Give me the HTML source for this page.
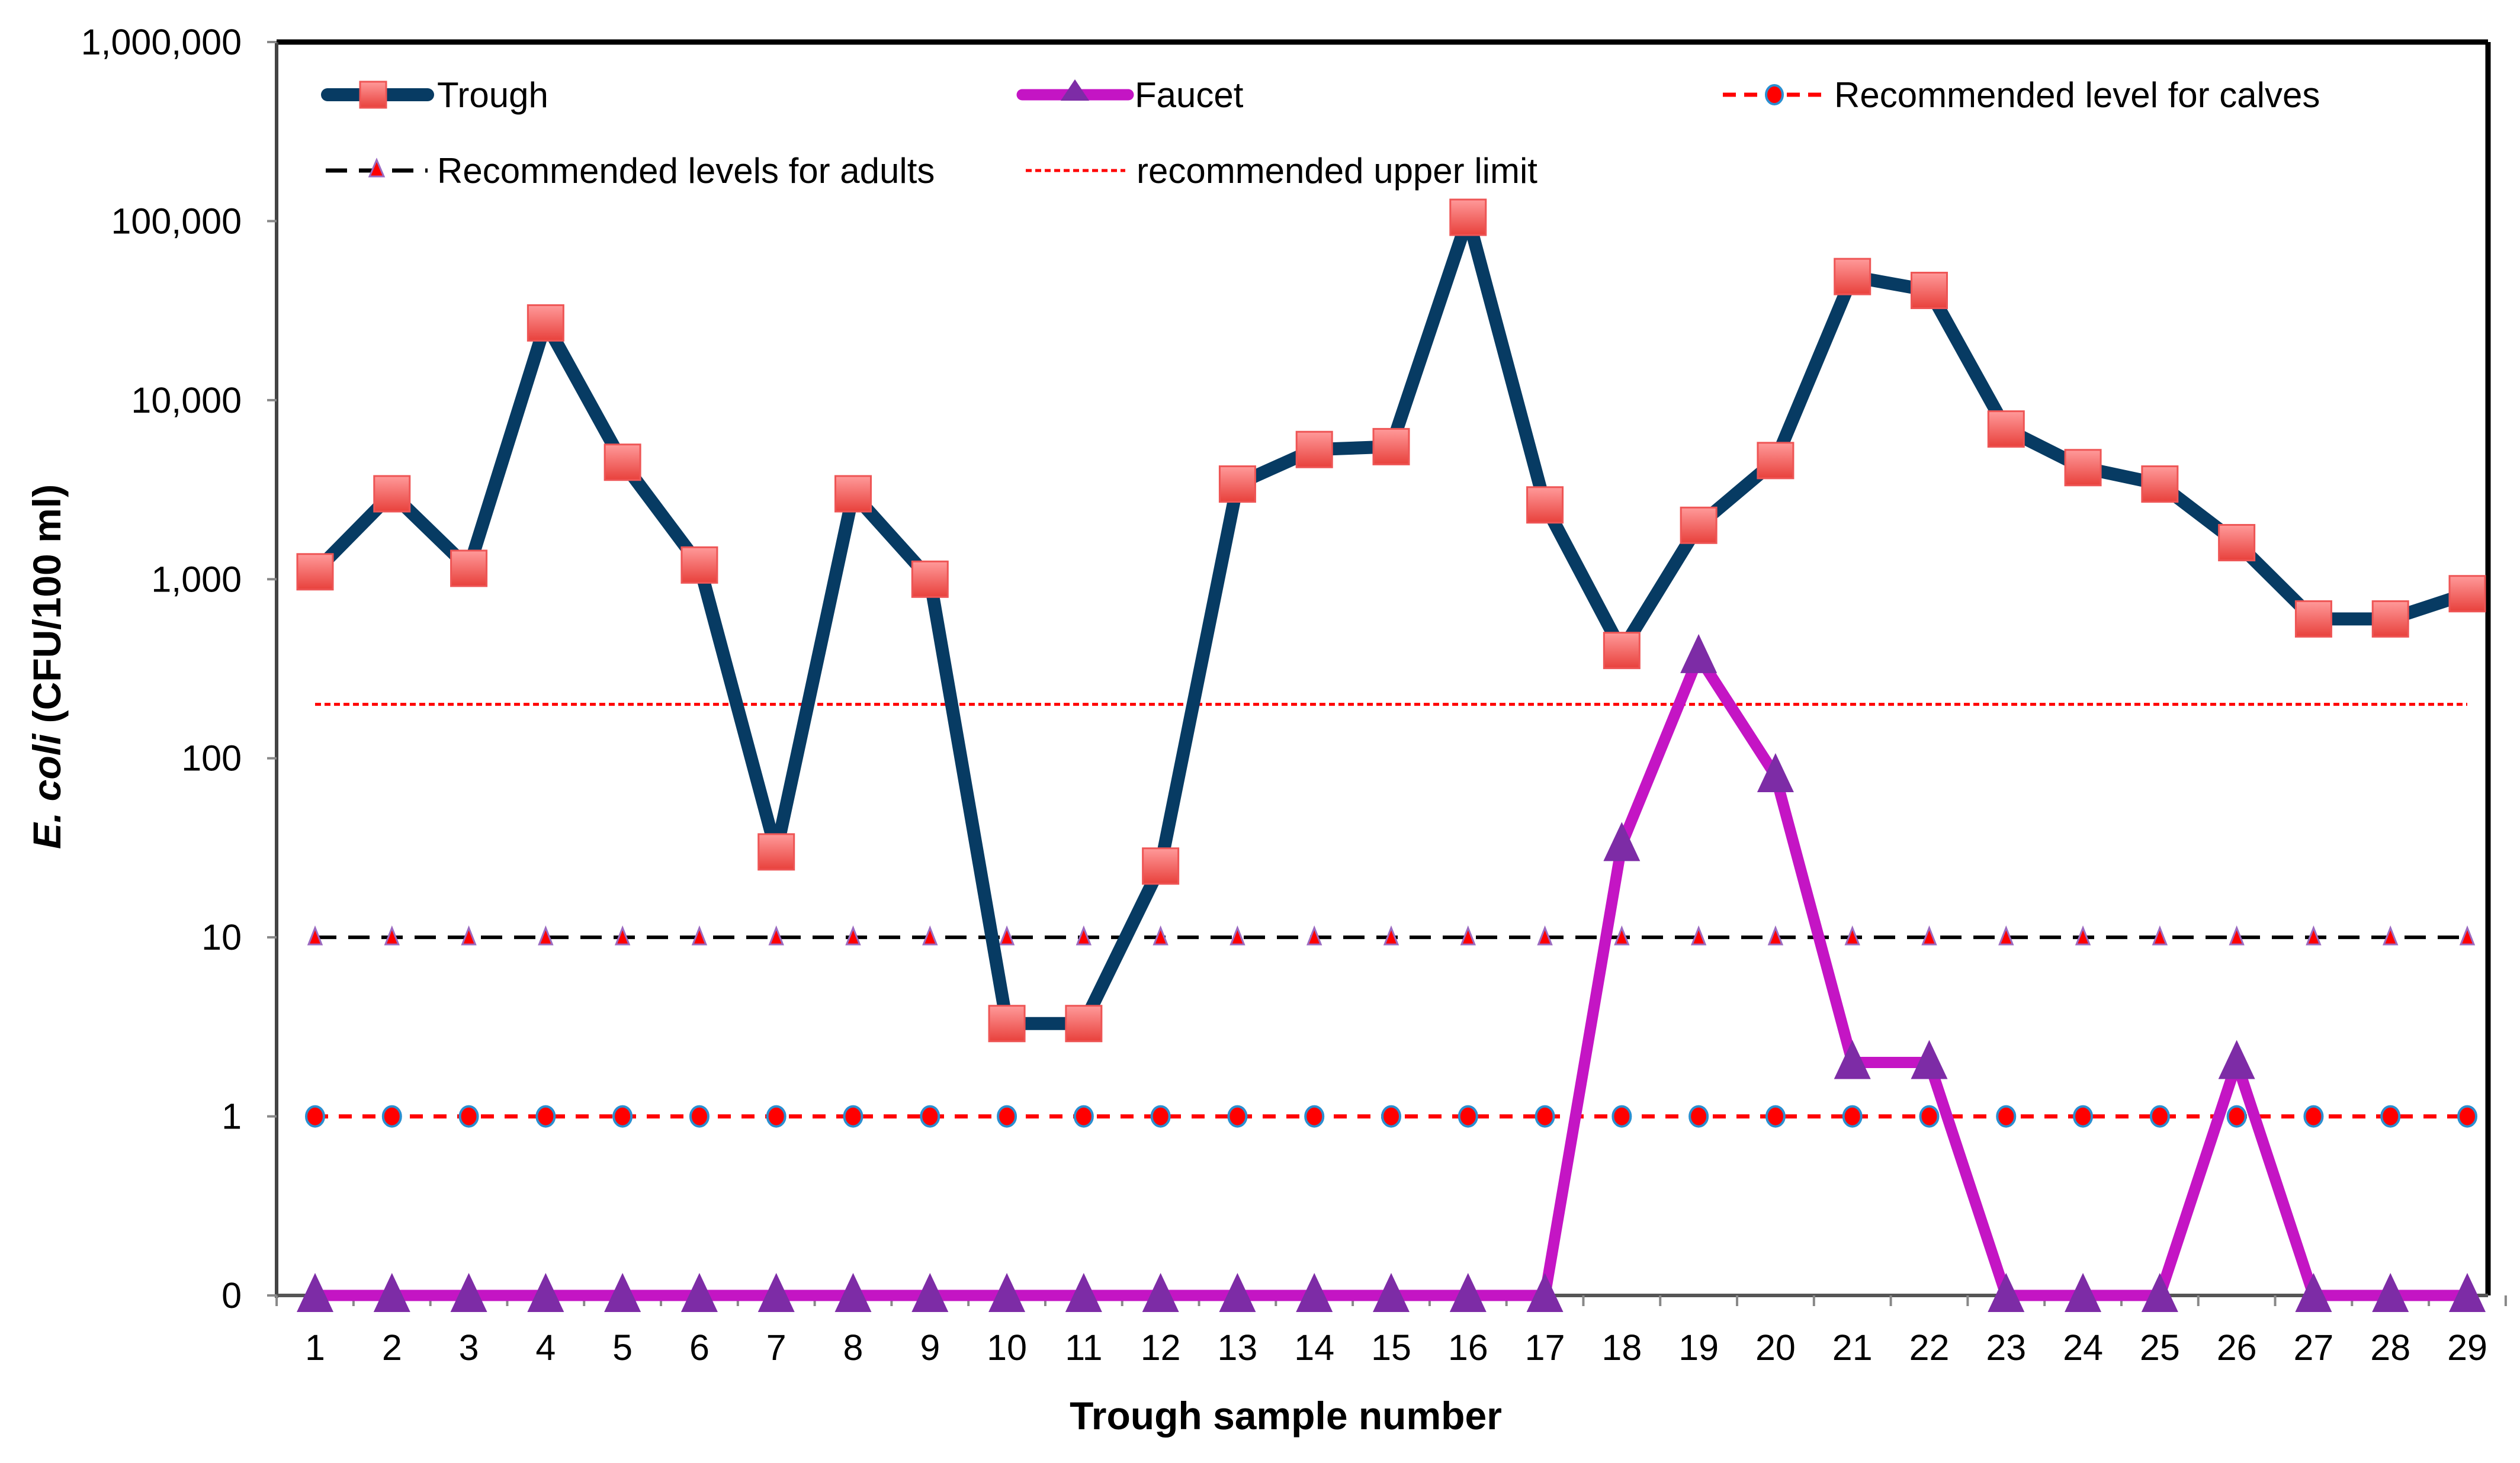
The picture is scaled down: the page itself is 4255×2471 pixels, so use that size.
<!DOCTYPE html>
<html><head><meta charset="utf-8"><style>
html,body{margin:0;padding:0;background:#fff;}
svg text{font-family:"Liberation Sans Narrow","Liberation Sans",sans-serif;fill:#000;}
</style></head><body>
<svg id="chart" width="4255" height="2466" viewBox="0 0 4255 2466" xmlns="http://www.w3.org/2000/svg">
<defs>
<linearGradient id="sq" x1="0" y1="0" x2="0" y2="1"><stop offset="0" stop-color="#ff9a9a"/><stop offset="1" stop-color="#e8413c"/></linearGradient>
</defs>
<g id="grid"></g>
<g id="marks"></g>
<g id="legend"></g>
<text x="2171" y="2414" font-size="66" font-weight="bold" text-anchor="middle">Trough sample number</text>
<text transform="translate(102,1126) rotate(-90)" font-size="66" font-weight="bold" text-anchor="middle"><tspan font-style="italic">E. coli</tspan> (CFU/100 ml)</text>
</svg>
<script>
const categories=[1,2,3,4,5,6,7,8,9,10,11,12,13,14,15,16,17,18,19,20,21,22,23,24,25,26,27,28,29];
const trough=[1100,3000,1150,27000,4500,1200,30,3000,1000,3.3,3.3,25,3400,5300,5500,105000,2600,400,2000,4600,49000,41000,6900,4200,3400,1600,600,600,830];
const faucet=[0.1,0.1,0.1,0.1,0.1,0.1,0.1,0.1,0.1,0.1,0.1,0.1,0.1,0.1,0.1,0.1,0.1,33,370,80,2,2,0.1,0.1,0.1,2,0.1,0.1,0.1];
const calvesLevel=1;
const adultsLevel=10;
const upperLimit=200;
const yTicks=[0.1,1,10,100,1000,10000,100000,1000000];
const yTickLabels=["0","1","10","100","1,000","10,000","100,000","1,000,000"];

const NS="http://www.w3.org/2000/svg";
const L=467,R=4201,T=71,B=2188;
const x0=532,dx=(4166-532)/28;
function xs(i){return x0+i*dx;}
function ys(v){const lo=Math.log10(0.1),hi=Math.log10(1e6);return B-(Math.log10(v)-lo)/(hi-lo)*(B-T);}
function el(tag,attrs,parent){const e=document.createElementNS(NS,tag);for(const k in attrs)e.setAttribute(k,attrs[k]);parent.appendChild(e);return e;}
const grid=document.getElementById('grid'),marks=document.getElementById('marks'),leg=document.getElementById('legend');

let a=el('line',{x1:L,y1:T,x2:R,y2:T,stroke:'#000','stroke-width':9},grid);

a=el('line',{x1:R,y1:T,x2:R,y2:B,stroke:'#000','stroke-width':9},grid);

a=el('line',{x1:L,y1:T,x2:L,y2:B+4,stroke:'#444','stroke-width':6},grid);

a=el('line',{x1:L,y1:B,x2:R,y2:B,stroke:'#555','stroke-width':6},grid);

yTicks.forEach((v,i)=>{
  const y=ys(v);
  const t=el('line',{x1:L-16,y1:y,x2:L,y2:y,stroke:'#888','stroke-width':4},grid);
  
  const tx=el('text',{x:408,y:y+21,'font-size':61,'text-anchor':'end'},grid);
  tx.textContent=yTickLabels[i];
  
});
for(let i=0;i<=categories.length;i++){
  const x=xs(i)-dx/2;
  const t=el('line',{x1:x,y1:B,x2:x,y2:B+18,stroke:'#888','stroke-width':4},grid);
  
}
categories.forEach((c,i)=>{
  const tx=el('text',{x:xs(i),y:2297,'font-size':61,'text-anchor':'middle'},grid);
  tx.textContent=c;
  
});

let ul=el('line',{x1:xs(0),y1:ys(upperLimit),x2:xs(28),y2:ys(upperLimit),stroke:'#f00','stroke-width':5,'stroke-dasharray':'10 6'},marks);

let ad=el('line',{x1:xs(0),y1:ys(adultsLevel),x2:xs(28),y2:ys(adultsLevel),stroke:'#000','stroke-width':6,'stroke-dasharray':'36 20'},marks);

categories.forEach((c,i)=>{
  const x=xs(i),y=ys(adultsLevel);
  const p=el('polygon',{points:`${x},${y-16} ${x-11},${y+12} ${x+11},${y+12}`,fill:'#f00',stroke:'#9b6ac0','stroke-width':3},marks);
  
});
let cv=el('line',{x1:xs(0),y1:ys(calvesLevel),x2:xs(28),y2:ys(calvesLevel),stroke:'#f00','stroke-width':7,'stroke-dasharray':'22 18'},marks);

categories.forEach((c,i)=>{
  const p=el('ellipse',{cx:xs(i),cy:ys(calvesLevel),rx:15,ry:17,fill:'#f00',stroke:'#2a8fd0','stroke-width':4},marks);
  
});
let tl=el('polyline',{points:trough.map((v,i)=>xs(i)+','+ys(v)).join(' '),fill:'none',stroke:'#073b63','stroke-width':22,'stroke-linejoin':'round'},marks);

trough.forEach((v,i)=>{
  const r=el('rect',{x:xs(i)-30,y:ys(v)-30,width:60,height:60,fill:'url(#sq)',stroke:'#e55','stroke-width':3},marks);
  
});
let fl=el('polyline',{points:faucet.map((v,i)=>xs(i)+','+ys(v)).join(' '),fill:'none',stroke:'#c415c4','stroke-width':19,'stroke-linejoin':'round'},marks);

faucet.forEach((v,i)=>{
  const x=xs(i),y=ys(v);
  const p=el('polygon',{points:`${x},${y-38} ${x-31},${y+28} ${x+31},${y+28}`,fill:'#7d2ca6'},marks);
  
});

function legText(x,y,s,name){const t=el('text',{x:x,y:y+21,'font-size':60},leg);t.textContent=s;}
let g;
g=el('line',{x1:553,y1:160,x2:722,y2:160,stroke:'#073b63','stroke-width':22,'stroke-linecap':'round'},leg);

g=el('rect',{x:608,y:138,width:44,height:44,fill:'url(#sq)',stroke:'#e55','stroke-width':3},leg);

legText(738,160,'Trough','legend-trough-label');
g=el('line',{x1:1726,y1:160,x2:1905,y2:160,stroke:'#c415c4','stroke-width':19,'stroke-linecap':'round'},leg);

g=el('polygon',{points:'1815,134 1791,170 1839,170',fill:'#7d2ca6'},leg);

legText(1916,160,'Faucet','legend-faucet-label');
g=el('line',{x1:2909,y1:160,x2:3083,y2:160,stroke:'#f00','stroke-width':7,'stroke-dasharray':'22 14'},leg);

g=el('ellipse',{cx:2996,cy:160,rx:14,ry:16,fill:'#f00',stroke:'#2a8fd0','stroke-width':4},leg);

legText(3097,160,'Recommended level for calves','legend-calves-label');
g=el('line',{x1:550,y1:288,x2:722,y2:288,stroke:'#000','stroke-width':7,'stroke-dasharray':'36 20'},leg);

g=el('polygon',{points:'636,270 624,298 648,298',fill:'#f00',stroke:'#9b6ac0','stroke-width':3},leg);

legText(738,288,'Recommended levels for adults','legend-adults-label');
g=el('line',{x1:1732,y1:288,x2:1900,y2:288,stroke:'#f00','stroke-width':5,'stroke-dasharray':'10 6'},leg);

legText(1919,288,'recommended upper limit','legend-upper-limit-label');
</script>
</body></html>
